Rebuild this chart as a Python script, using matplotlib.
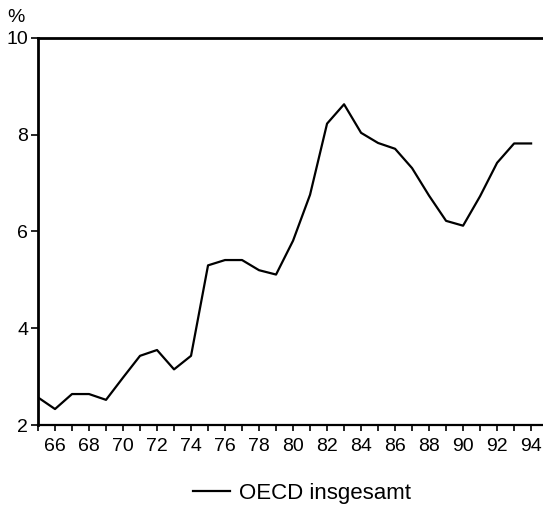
import matplotlib
matplotlib.use("Agg")
from matplotlib import pyplot as plt

plt.rcParams['font.family'] = ['Liberation Sans', 'DejaVu Sans']

# Arbeitslosenquote OECD insgesamt
years = list(range(65, 95))
rate = [2.57, 2.33, 2.64, 2.64, 2.52, 2.98, 3.43, 3.55, 3.15, 3.43,
        5.30, 5.41, 5.41, 5.20, 5.11, 5.81, 6.76, 8.23, 8.63, 8.04,
        7.83, 7.71, 7.31, 6.74, 6.22, 6.12, 6.73, 7.42, 7.82, 7.82]
yticks = [2, 4, 6, 8, 10]

fig = plt.figure(figsize=(5.43, 5.11), dpi=100)
ax = fig.add_axes([38/543, 1 - 425/511, 1 - 38/543, (425 - 38)/511])

line, = ax.plot(years, rate, color="black", lw=1.6, label="OECD insgesamt")

ax.set_xlim(65, 94.7)
ax.set_ylim(2, 10)
ax.set_xticks(years)
ax.set_xticklabels([str(y) if y % 2 == 0 else "" for y in years])
ax.set_yticks(yticks)
ax.set_yticklabels([str(v) for v in yticks])

ax.spines['right'].set_visible(False)
ax.spines['top'].set_linewidth(2.0)
ax.spines['left'].set_linewidth(2.0)
ax.spines['bottom'].set_linewidth(1.6)
ax.tick_params(axis='both', direction='out', length=5, width=1.2,
               labelsize=14, colors="black", pad=2)
ax.tick_params(axis='x', length=4, pad=5)

fig.text(7/543, 1 - 17/511, "%", fontsize=14, va="center", ha="left")

fig.legend(handles=[line], loc="center", bbox_to_anchor=(302/543, 1 - 493/511),
           frameon=False, fontsize=16, handlelength=1.7, handletextpad=0.4)

fig.savefig("out.png", dpi=100)
